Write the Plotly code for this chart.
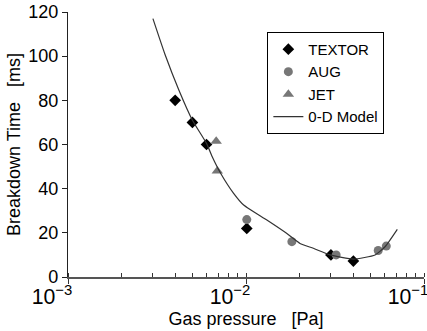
import plotly.graph_objects as go

# TEXTOR (diamonds)
textor_p = [0.0040, 0.0050, 0.0060, 0.0101, 0.0300, 0.0401]
textor_t = [80, 70, 60, 22, 10, 7.2]

# AUG (circles)
aug_p = [0.0101, 0.0181, 0.0321, 0.0553, 0.0614]
aug_t = [26, 16, 10, 12, 14]

# JET (triangles)
jet_p = [0.0068, 0.0069]
jet_t = [61.5, 48]

# 0-D Model curve
model_p = [0.0030, 0.0035, 0.0042, 0.0050, 0.0060, 0.0065, 0.0072, 0.0085, 0.0097,
           0.0131, 0.0169, 0.0201, 0.0239, 0.0297, 0.0401, 0.0531, 0.0604, 0.0708]
model_t = [117, 101, 84.6, 71, 60.5, 54, 47, 38, 32.6,
           25.8, 19.8, 15.2, 13, 10, 8.1, 10, 13.7, 21.6]

FONT = "Liberation Sans, Arial, sans-serif"

fig = go.Figure()
fig.add_trace(go.Scatter(x=textor_p, y=textor_t, mode="markers", name="TEXTOR",
                         marker=dict(symbol="diamond", size=9, color="black")))
fig.add_trace(go.Scatter(x=aug_p, y=aug_t, mode="markers", name="AUG",
                         marker=dict(symbol="circle", size=9, color="#777777")))
fig.add_trace(go.Scatter(x=jet_p, y=jet_t, mode="markers", name="JET",
                         marker=dict(symbol="triangle-up", size=10, color="#777777")))
fig.add_trace(go.Scatter(x=model_p, y=model_t, mode="lines", name="0-D Model",
                         line=dict(color="#333333", width=1.2, shape="spline", smoothing=0.5)))

fig.update_layout(
    width=427, height=331,
    margin=dict(l=68, r=3, t=12, b=54, autoexpand=False),
    plot_bgcolor="white", paper_bgcolor="white",
    font=dict(family=FONT, size=18, color="black"),
    showlegend=True,
    legend=dict(x=0.56, y=0.925, xanchor="left", yanchor="top",
                bgcolor="white", bordercolor="black", borderwidth=1,
                font=dict(size=15), tracegroupgap=0),
    xaxis=dict(
        type="log", range=[-3, -1], dtick=1, exponentformat="power",
        showline=True, linecolor="#555555", linewidth=1.5,
        ticks="outside", ticklen=5, tickcolor="#333333",
        showgrid=False, zeroline=False, automargin=False,
        ticklabelshift=-16, ticklabelstandoff=-4, ticklabeloverflow="allow",
        minor=dict(ticks="inside", ticklen=4, tickcolor="#333333", showgrid=False),
        title=dict(text="Gas pressure\u00a0\u00a0\u00a0[Pa]", font=dict(size=18), standoff=2),
        tickfont=dict(size=17),
    ),
    yaxis=dict(
        range=[0, 120], dtick=20,
        showline=True, linecolor="#222222", linewidth=1.2,
        ticks="outside", ticklen=5, tickcolor="#222222",
        showgrid=False, zeroline=False, automargin=False,
        title=dict(text="Breakdown Time\u00a0\u00a0\u00a0[ms]", font=dict(size=18), standoff=2),
        tickfont=dict(size=18),
    ),
)

fig.write_html("out.html", config={"displayModeBar": False},
               post_script="document.body.style.margin='0';document.body.style.padding='0';document.body.style.overflow='hidden';")
